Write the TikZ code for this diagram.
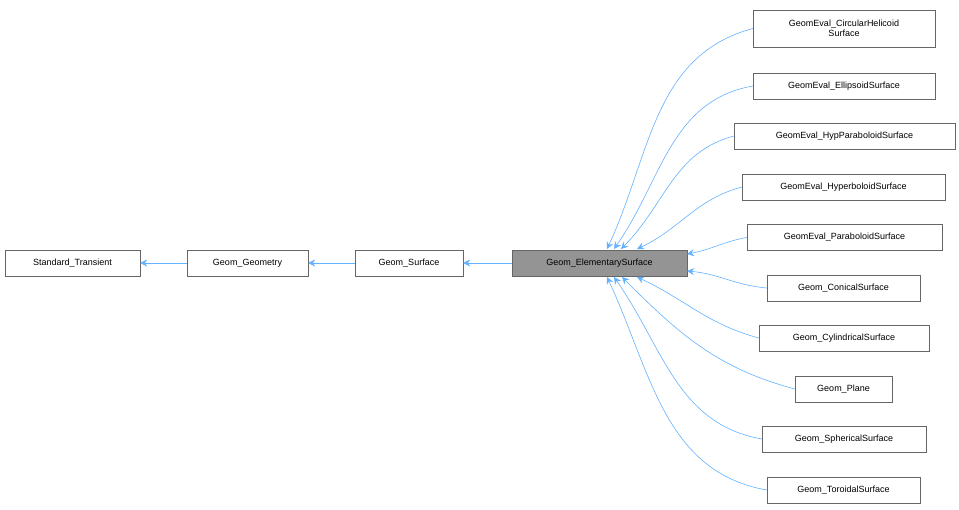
\documentclass[tikz,border=0pt]{standalone}
\usepackage{fontspec}
\setmainfont{Liberation Sans}
\usetikzlibrary{arrows.meta}
\begin{document}
\begin{tikzpicture}[x=1pt,y=-1pt,
 box/.style={draw=black!60,fill=white,inner sep=0pt,font=\fontsize{9}{10.5}\selectfont,align=center,minimum height=26},
 edge/.style={draw=cyan!50!blue!45!white,color={rgb,255:red,99;green,177;blue,255},-{Stealth[length=7,width=7]},line width=0.6}]
\useasboundingbox (0,0) rectangle (959,509);
\node[box,minimum width=135] (st) at (72.5,263) {Standard\_Transient};
\node[box,minimum width=121] (gg) at (247.5,263) {Geom\_Geometry};
\node[box,minimum width=108] (gs) at (409,263) {Geom\_Surface};
\node[box,minimum width=175,fill=black!42] (es) at (599.5,263) {Geom\_ElementarySurface};
\node[box,minimum width=182,minimum height=37] (c1) at (844,28.5) {GeomEval\_CircularHelicoid\\Surface};
\node[box,minimum width=182] (c2) at (844,86) {GeomEval\_EllipsoidSurface};
\node[box,minimum width=221] (c3) at (844.5,136) {GeomEval\_HypParaboloidSurface};
\node[box,minimum width=203] (c4) at (843.5,187) {GeomEval\_HyperboloidSurface};
\node[box,minimum width=195] (c5) at (844.5,237.5) {GeomEval\_ParaboloidSurface};
\node[box,minimum width=153] (c6) at (843.5,288) {Geom\_ConicalSurface};
\node[box,minimum width=170] (c7) at (844,338) {Geom\_CylindricalSurface};
\node[box,minimum width=97] (c8) at (843.5,389) {Geom\_Plane};
\node[box,minimum width=164] (c9) at (844,439) {Geom\_SphericalSurface};
\node[box,minimum width=153] (c10) at (843.5,490) {Geom\_ToroidalSurface};
\draw[edge] (gg) -- (st);
\draw[edge] (gs) -- (gg);
\draw[edge] (es) -- (gs);
\coordinate (e1) at (607,249); \coordinate (e2) at (614,249);
\coordinate (e3) at (621,249); \coordinate (e4) at (637,249);
\coordinate (e5) at (687,254); \coordinate (e6) at (687,271);
\coordinate (e7) at (637,277); \coordinate (e8) at (622,277);
\coordinate (e9) at (614,277); \coordinate (e10) at (607,277);
\draw[edge] (c1.west) to[out=195,in=65] (e1);
\draw[edge] (c2.west) to[out=190,in=55] (e2);
\draw[edge] (c3.west) to[out=195,in=45] (e3);
\draw[edge] (c4.west) to[out=195,in=25] (e4);
\draw[edge] (c5.west) to[out=190,in=10] (e5);
\draw[edge] (c6.west) to[out=175,in=-5] (e6);
\draw[edge] (c7.west) to[out=165,in=-25] (e7);
\draw[edge] (c8.west) to[out=165,in=-45] (e8);
\draw[edge] (c9.west) to[out=170,in=-55] (e9);
\draw[edge] (c10.west) to[out=170,in=-65] (e10);
\end{tikzpicture}
\end{document}
